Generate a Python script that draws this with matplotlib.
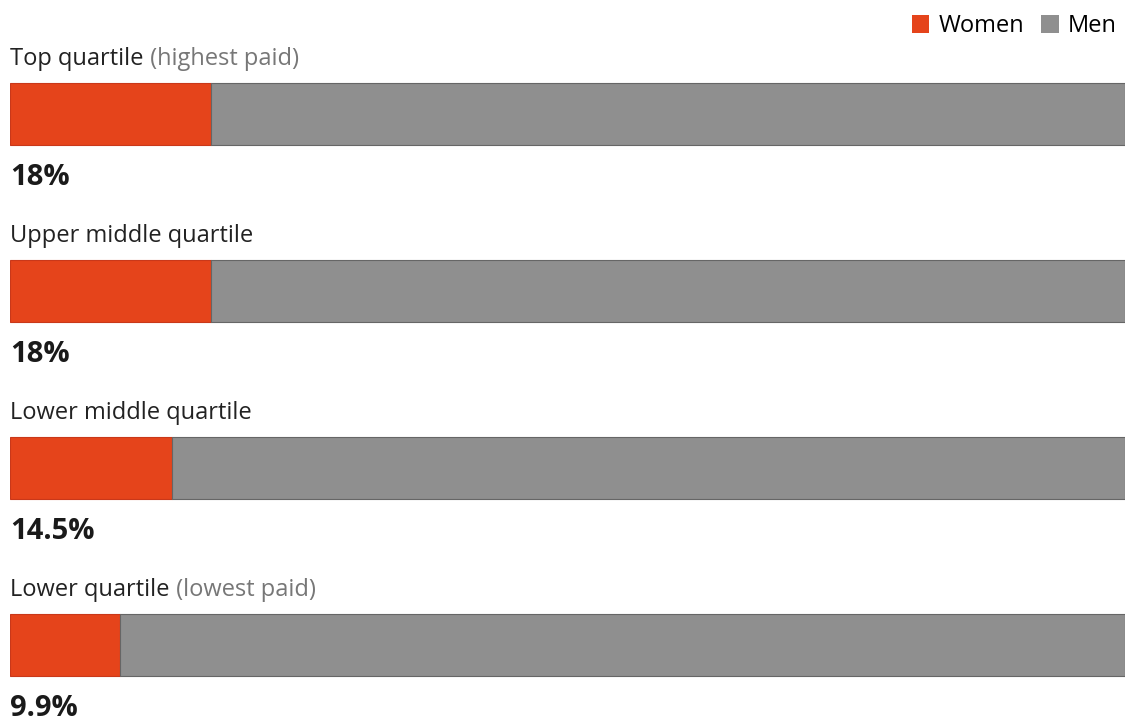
import matplotlib.pyplot as plt
from matplotlib.patches import Patch

categories = ['Top quartile', 'Upper middle quartile', 'Lower middle quartile', 'Lower quartile']
suffixes = ['(highest paid)', '', '', '(lowest paid)']
women = [18, 18, 14.5, 9.9]
pct_labels = ['18%', '18%', '14.5%', '9.9%']

orange = '#e5441b'
grey = '#8f8f8f'
plt.rcParams['font.family'] = ['Open Sans', 'DejaVu Sans']

fig = plt.figure(figsize=(11.31, 7.22), dpi=100)
ax = fig.add_axes([10 / 1131, 0, 1115 / 1131, 1])

ypos = list(range(len(categories)))
men = [100 - w for w in women]
ax.barh(ypos, women, height=0.35, color=orange, edgecolor='#c9381a', linewidth=0.8)
ax.barh(ypos, men, left=women, height=0.35, color=grey, edgecolor='#666666', linewidth=0.8)

for y, cat, suf, lab in zip(ypos, categories, suffixes, pct_labels):
    t = ax.text(0, y - 0.31, cat, fontsize=17, color='#222222', va='center', ha='left')
    if suf:
        ax.annotate(' ' + suf, xy=(1, 0), xycoords=t, va='bottom', ha='left',
                    fontsize=17, color='#777777')
    ax.text(0, y + 0.36, lab, fontsize=21, fontweight='bold', color='#1a1a1a',
            va='center', ha='left')

ax.set_xlim(0, 100)
ax.set_ylim(3.435, -0.644)
ax.axis('off')

handles = [Patch(facecolor=orange, edgecolor='none', label='Women'),
           Patch(facecolor=grey, edgecolor='none', label='Men')]
fig.legend(handles=handles, loc='upper right', bbox_to_anchor=(1.0, 1.0), ncol=2,
           frameon=False, fontsize=17, handlelength=0.75, handleheight=0.75,
           handletextpad=0.4, columnspacing=0.7, borderaxespad=0.2)

fig.savefig('out.png', dpi=100, facecolor='white')
